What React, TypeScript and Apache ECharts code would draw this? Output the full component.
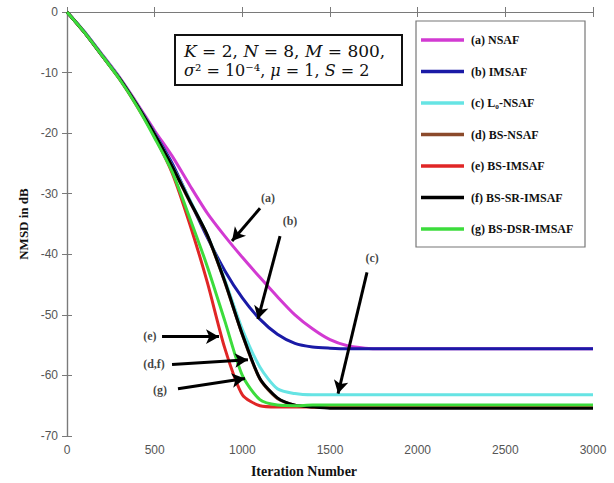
import React, { useEffect, useRef } from "react";
import * as echarts from "echarts";

// Iteration samples (x axis)
const iterations = [0, 100, 200, 300, 400, 500, 600, 700, 800, 900, 1000, 1100, 1200, 1300, 1400, 1500, 1600, 1700, 1800, 1900, 2000, 2250, 2500, 2750, 3000];

// NMSD (dB)
const nsaf = [0, -3.3, -7.0, -10.8, -15.1, -19.6, -23.8, -28.6, -33.2, -37.0, -40.5, -43.8, -47.0, -50.0, -52.3, -54.1, -55.1, -55.5, -55.6, -55.6, -55.6, -55.6, -55.6, -55.6, -55.6];
const imsaf = [0, -3.3, -7.1, -10.9, -15.3, -20.0, -25.0, -31.1, -37.2, -42.7, -47.2, -50.7, -53.2, -54.7, -55.3, -55.5, -55.6, -55.6, -55.6, -55.6, -55.6, -55.6, -55.6, -55.6, -55.6];
const l0nsaf = [0, -3.3, -7.1, -10.9, -15.3, -20.1, -25.4, -31.0, -36.8, -44.2, -52.4, -58.6, -62.2, -63.0, -63.2, -63.2, -63.2, -63.2, -63.2, -63.2, -63.2, -63.2, -63.2, -63.2, -63.2];
const bsNsaf = [0, -3.4, -7.2, -11.0, -15.4, -20.3, -25.6, -31.3, -36.9, -44.6, -53.3, -60.6, -63.8, -64.9, -65.2, -65.3, -65.3, -65.3, -65.3, -65.3, -65.3, -65.3, -65.3, -65.3, -65.3];
const bsImsaf = [0, -3.4, -7.2, -11.1, -15.6, -20.6, -26.6, -35.0, -44.6, -55.5, -63.2, -65.0, -65.2, -65.2, -65.2, -65.2, -65.2, -65.2, -65.2, -65.2, -65.2, -65.2, -65.2, -65.2, -65.2];
const bsSrImsaf = [0, -3.4, -7.2, -11.0, -15.4, -20.2, -25.5, -31.2, -36.8, -44.5, -53.2, -60.5, -63.7, -64.9, -65.2, -65.4, -65.4, -65.4, -65.4, -65.4, -65.4, -65.4, -65.4, -65.4, -65.4];
const bsDsrImsaf = [0, -3.4, -7.2, -11.1, -15.6, -20.8, -26.4, -34.0, -42.0, -51.0, -60.0, -64.0, -64.9, -65.0, -64.9, -64.9, -64.9, -64.9, -64.9, -64.9, -64.9, -64.9, -64.9, -64.9, -64.9];

const seriesNames = ["(a) NSAF", "(b) IMSAF", "(c) L₀-NSAF", "(d) BS-NSAF", "(e) BS-IMSAF", "(f) BS-SR-IMSAF", "(g) BS-DSR-IMSAF"];
const seriesValues = [nsaf, imsaf, l0nsaf, bsNsaf, bsImsaf, bsSrImsaf, bsDsrImsaf];
const seriesColors = ["#d23ad2", "#1a1aa6", "#66e4e4", "#8b4a2b", "#e02626", "#000000", "#3cdc3c"];

// Annotation arrows (data coordinates): label, tail, head, label position
const arrowLabels = ["(a)", "(b)", "(c)", "(e)", "(d,f)", "(g)"];
const arrowTails = [[1101, -32.4], [1215, -37.0], [1711, -43.0], [542, -53.6], [599, -58.2], [633, -62.2]];
const arrowHeads = [[941, -37.8], [1089, -50.7], [1546, -63.0], [867, -53.6], [1032, -57.4], [1015, -60.5]];
const labelPoints = [[1146, -30.7], [1272, -34.5], [1740, -40.6], [473, -53.5], [496, -58.1], [530, -62.4]];

const xTicks = { min: 0, max: 3000, interval: 500 };
const yTicks = { min: -70, max: 0, interval: 10 };

export default function App() {
  const ref = useRef<HTMLDivElement>(null);
  useEffect(() => {
    document.body.style.margin = "0";
    const chart = echarts.init(ref.current!, null, { renderer: "svg" });
    const axisColor = "#7a7a7a";
    const serif = "'Liberation Serif', 'Times New Roman', serif";
    const mathSerif = "'DejaVu Serif', serif";
    const sans = "'Liberation Sans', Arial, sans-serif";
    const lineSeries = seriesNames.map((name, i) => ({
      name,
      type: "line",
      data: iterations.map((x, j) => [x, seriesValues[i][j]]),
      showSymbol: false,
      symbol: "none",
      smooth: 0.25,
      lineStyle: { width: 3, color: seriesColors[i] },
      itemStyle: { color: seriesColors[i] },
      z: 2 + i * 0.01,
    }));
    const option: any = {
      animation: false,
      backgroundColor: "#ffffff",
      grid: { left: 67, right: 21, top: 12, bottom: 43, containLabel: false },
      xAxis: [
        {
          type: "value", ...xTicks, position: "bottom",
          axisLine: { show: true, lineStyle: { color: axisColor, width: 1.2 } },
          axisTick: { show: true, inside: true, length: 5, lineStyle: { color: axisColor } },
          axisLabel: { color: "#555", fontSize: 12, fontFamily: sans, margin: 8, formatter: (v: number) => String(v) },
          splitLine: { show: false },
          name: "Iteration Number", nameLocation: "middle", nameGap: 28,
          nameTextStyle: { fontFamily: serif, fontWeight: "bold", fontSize: 14, color: "#111", padding: [0, 52, 0, 0] },
        },
        {
          type: "value", ...xTicks, position: "top",
          axisLine: { show: true, lineStyle: { color: axisColor, width: 1.2 } },
          axisTick: { show: true, inside: true, length: 5, lineStyle: { color: axisColor } },
          axisLabel: { show: false }, splitLine: { show: false },
        },
      ],
      yAxis: [
        {
          type: "value", ...yTicks, position: "left",
          axisLine: { show: true, lineStyle: { color: axisColor, width: 1.2 } },
          axisTick: { show: true, inside: true, length: 5, lineStyle: { color: axisColor } },
          axisLabel: { color: "#555", fontSize: 12, fontFamily: sans, margin: 9 },
          splitLine: { show: false },
          name: "NMSD in dB", nameLocation: "middle", nameGap: 33, nameRotate: 90,
          nameTextStyle: { fontFamily: serif, fontWeight: "bold", fontSize: 13, color: "#111" },
        },
        {
          type: "value", ...yTicks, position: "right",
          axisLine: { show: true, lineStyle: { color: axisColor, width: 1.2 } },
          axisTick: { show: true, inside: true, length: 5, lineStyle: { color: axisColor } },
          axisLabel: { show: false }, splitLine: { show: false },
        },
      ],
      legend: {
        data: seriesNames,
        orient: "vertical",
        left: 421,
        top: 33,
        padding: 0,
        icon: "rect",
        itemWidth: 43,
        itemHeight: 3.5,
        itemGap: 17.5,
        selectedMode: false,
        textStyle: { fontFamily: serif, fontWeight: "bold", fontSize: 12, color: "#111", lineHeight: 14, padding: [0, 0, 0, 2] },
        z: 10,
      },
      graphic: [
        { type: "rect", z: 5, shape: { x: 416, y: 21, width: 169, height: 226 }, style: { fill: "#fff", stroke: "#777", lineWidth: 1.2 } },
        { type: "rect", z: 5, shape: { x: 175, y: 35, width: 227, height: 50 }, style: { fill: "#fff", stroke: "#111", lineWidth: 2 } },
        {
          type: "text", z: 6, x: 184, y: 51,
          style: {
            text: "{i|K} = 2, {i|N} = 8, {i|M} = 800,",
            fontFamily: mathSerif, fontSize: 17, fill: "#111", verticalAlign: "middle",
            rich: { i: { fontFamily: mathSerif, fontSize: 17, fontStyle: "italic", fill: "#111" } },
          },
        },
        {
          type: "text", z: 6, x: 184, y: 70,
          style: {
            text: "{i|σ}² = 10⁻⁴, {i|μ} = 1, {i|S} = 2",
            fontFamily: mathSerif, fontSize: 16, fill: "#111", verticalAlign: "middle",
            rich: { i: { fontFamily: mathSerif, fontSize: 16, fontStyle: "italic", fill: "#111" } },
          },
        },
      ],
      series: [
        ...lineSeries,
        {
          name: "arrows",
          type: "line",
          data: [],
          silent: true,
          markLine: {
            silent: true,
            animation: false,
            symbol: ["none", "arrow"],
            symbolSize: [11, 13],
            label: { show: false },
            lineStyle: { color: "#000", width: 3, type: "solid" },
            emphasis: { disabled: true },
            data: arrowTails.map((t, i) => [{ coord: t }, { coord: arrowHeads[i] }]),
          },
          z: 8,
        },
        {
          name: "arrowLabels",
          type: "scatter",
          symbolSize: 0,
          silent: true,
          data: labelPoints.map((p, i) => ({ value: p, name: arrowLabels[i] })),
          label: {
            show: true, position: "inside", formatter: (p: any) => p.name,
            fontFamily: serif, fontWeight: "bold", fontSize: 12, color: "#111",
          },
          z: 9,
        },
      ],
    };
    chart.setOption(option);
    return () => chart.dispose();
  }, []);
  return <div ref={ref} style={{ position: "fixed", left: 0, top: 0, width: 614, height: 483 }} />;
}
